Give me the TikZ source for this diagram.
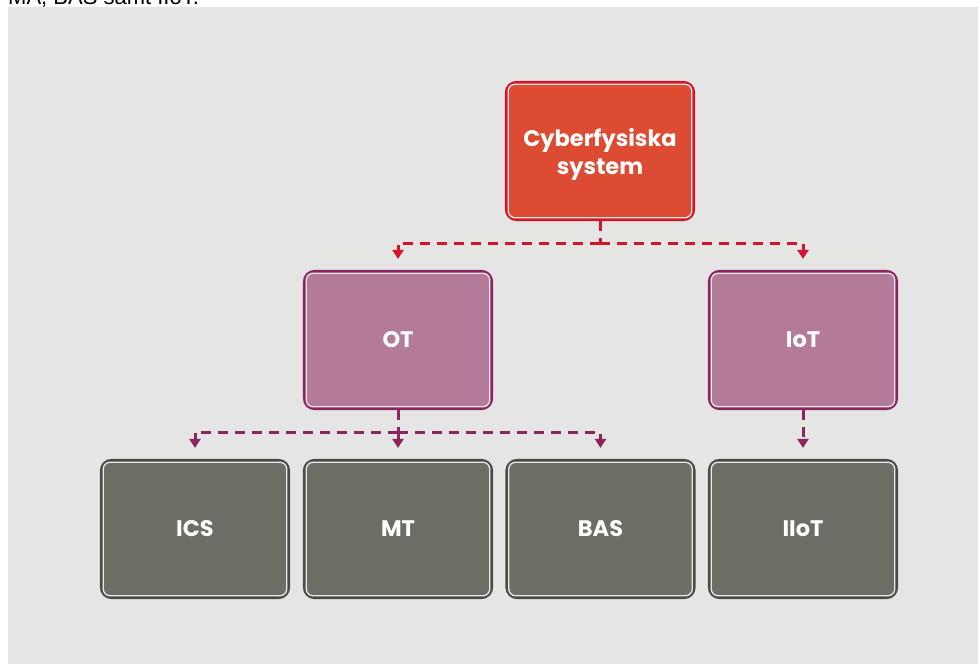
\documentclass[tikz,border=0pt]{standalone}
\usepackage{fontspec}
\setmainfont{Poppins}
\newfontfamily\topfont{Liberation Sans}
\usetikzlibrary{arrows.meta,calc}
\definecolor{bgc}{HTML}{E5E5E3}
\definecolor{redfill}{HTML}{DD4C32}
\definecolor{redline}{HTML}{D6132B}
\definecolor{purfill}{HTML}{B47B98}
\definecolor{purline}{HTML}{8A2560}
\definecolor{grayfill}{HTML}{6D6C65}
\definecolor{grayline}{HTML}{4B4B47}
\definecolor{innerc}{HTML}{ECE8EA}
\tikzset{
  box/.style={rectangle, rounded corners=10pt, line width=3.2pt,
    minimum width=187pt, minimum height=137pt, inner sep=0pt,
    text=white, font=\bfseries\fontsize{22.5}{28}\selectfont, align=center},
  redbox/.style={box, fill=redfill, draw=redline},
  purbox/.style={box, fill=purfill, draw=purline},
  graybox/.style={box, fill=grayfill, draw=grayline},
  inner/.style={draw=innerc, line width=1.3pt, rounded corners=7pt},
  dashline/.style={line width=3pt, dash pattern=on 10pt off 7pt},
  tip/.style={-{Triangle[length=9pt,width=11pt]}, shorten >=11pt},
}
\begin{document}
\begin{tikzpicture}[x=1pt,y=-1pt]
\useasboundingbox (0,0) rectangle (978,664);
\clip (0,0) rectangle (978,664);
\fill[white] (0,0) rectangle (978,664);
\fill[bgc] (8,7) rectangle (978,664);
\node[anchor=base west, inner sep=0pt, font=\topfont\fontsize{22}{26}\selectfont] (cap) at (8,4.5) {MA, BAS samt IIoT.};

\node[redbox, text depth=0pt] (cps) at (600,151) {Cyberfysiska\\system};
\node[purbox] (ot) at (398,340) {OT};
\node[purbox] (iot) at (803,340) {IoT};
\node[graybox] (ics) at (195,529) {ICS};
\node[graybox] (mt) at (398,529) {MT};
\node[graybox] (bas) at (600.5,529) {BAS};
\node[graybox] (iiot) at (803,529) {IIoT};

\foreach \n in {cps,ot,iot,ics,mt,bas,iiot}
  \draw[inner] ([xshift=3.3pt,yshift=3.3pt]\n.south west) rectangle ([xshift=-3.3pt,yshift=-3.3pt]\n.north east);

\coordinate (j1) at ($(cps.south)+(0,22)$);
\draw[dashline, redline] (cps.south) -- (j1);
\draw[dashline, redline, tip] (j1) -| (ot.north);
\draw[dashline, redline, tip] (j1) -| (iot.north);

\coordinate (j2) at ($(ot.south)+(0,22)$);
\draw[dashline, purline] (ot.south) -- (j2);
\draw[dashline, purline, tip] (j2) -| (ics.north);
\draw[dashline, purline, tip] (j2) -- (mt.north);
\draw[dashline, purline, tip] (j2) -| (bas.north);
\draw[dashline, purline, tip] (iot.south) -- (iiot.north);
\end{tikzpicture}
\end{document}
